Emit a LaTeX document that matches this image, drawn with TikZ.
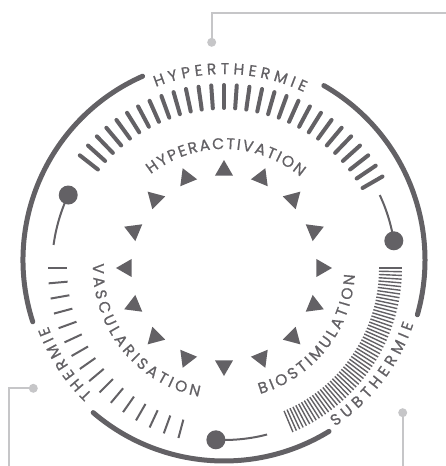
\documentclass[tikz,border=0pt]{standalone}
\usepackage{fontspec}
\setmainfont{Poppins}
\newfontfamily\lblfam{Poppins}[FakeBold=0.8]
\usetikzlibrary{shapes.geometric, decorations.text, calc}
\definecolor{ink}{RGB}{99,97,101}
\definecolor{guide}{RGB}{198,198,200}
\newcommand{\lblfont}{\lblfam\fontsize{15.5}{15.5}\selectfont\color{ink}}

\begin{document}
\begin{tikzpicture}[x=1pt, y=1pt,
  ring/.style={ink, line width=5pt, line cap=round},
  bigtick/.style={ink, line width=4pt, line cap=round},
  thintick/.style={ink, line width=2pt},
  finetick/.style={ink, line width=1.4pt},
  knob/.style={circle, fill=ink, inner sep=0pt, minimum size=19pt},
  needle/.style={ink, line width=2pt},
  pin/.style={circle, fill=guide, inner sep=0pt, minimum size=9pt},
  leader/.style={guide, line width=1.8pt},
  arrowhead/.style={regular polygon, regular polygon sides=3, fill=ink, inner sep=0pt, minimum size=21pt},
  arclbl/.style={decorate, decoration={text along path, text align={fit to path}, text={|\lblfont|#1}}}
]
\useasboundingbox (-224,-198) rectangle (222,268);
\coordinate (C) at (0,0);
\coordinate (O) at (0,8);

% outer ring, broken where the zone names sit
\draw[ring] ($(O)+(113.9:201)$) arc[start angle=113.9, end angle=197.9, radius=201];
\draw[ring] ($(O)+(229.4:201)$) arc[start angle=229.4, end angle=301.5, radius=201];
\draw[ring] ($(O)+(-15.8:201)$) arc[start angle=-15.8, end angle=60.2, radius=201];

% zone names
\path[arclbl=HYPERTHERMIE] ($(O)+(111.5:186)$) arc[start angle=111.5, end angle=64.5, radius=186];
\path[arclbl=THERMIE] ($(O)+(225.6:188)$) arc[start angle=225.6, end angle=200.6, radius=188];
\path[arclbl=SUBTHERMIE] ($(O)+(-56.3:200)$) arc[start angle=-56.3, end angle=-18.7, radius=200];

% tick scales
\foreach \a in {30,34,...,142}
  \draw[bigtick] (\a:160) -- (\a:183);
\foreach \a in {180,185,...,255}
  \draw[thintick] (\a:157) -- (\a:176);
\foreach \i in {0,...,56}
  \draw[finetick] ({-1.2*\i}:155) -- ({-1.2*\i}:178);

% knobs and needles
\coordinate (kL) at (154.9:172);
\coordinate (kR) at (9.1:172);
\coordinate (kB) at (267.3:172);
\draw[needle] (kL) arc[start angle=154.9, end angle=172.3, radius=172];
\draw[needle] (kR) arc[start angle=9.1, end angle=25.1, radius=172];
\draw[needle] (kB) arc[start angle=267.3, end angle=284.5, radius=172];
\node[knob] (knobL) at (kL) {};
\node[knob] (knobR) at (kR) {};
\node[knob] (knobB) at (kB) {};

% effect names
\path[arclbl=HYPERACTIVATION] (128:119) arc[start angle=128, end angle=50, radius=119];
\path[arclbl=VASCULARISATION] (178:131) arc[start angle=178, end angle=259, radius=131];
\path[arclbl=BIOSTIMULATION] (286:131) arc[start angle=286, end angle=357, radius=131];

% ring of triangles
\foreach \i in {0,...,15}
  \node[arrowhead, rotate={22.5*\i-90}] (tri\i) at ({22.5*\i}:97.5) {};

% leaders
\node[pin] (pinTop) at (-12.3,225.7) {};
\node[pin] (pinLeft) at (-190.7,-120.3) {};
\node[pin] (pinRight) at (178.7,-144.7) {};
\coordinate (endTop) at (222,255.3);
\coordinate (endLeft) at (-215,-198);
\coordinate (endRight) at (178.7,-198);
\draw[leader] (pinTop.center) |- (endTop);
\draw[leader] (pinLeft.center) -| (endLeft);
\draw[leader] (pinRight.center) -- (endRight);
\end{tikzpicture}
\end{document}
